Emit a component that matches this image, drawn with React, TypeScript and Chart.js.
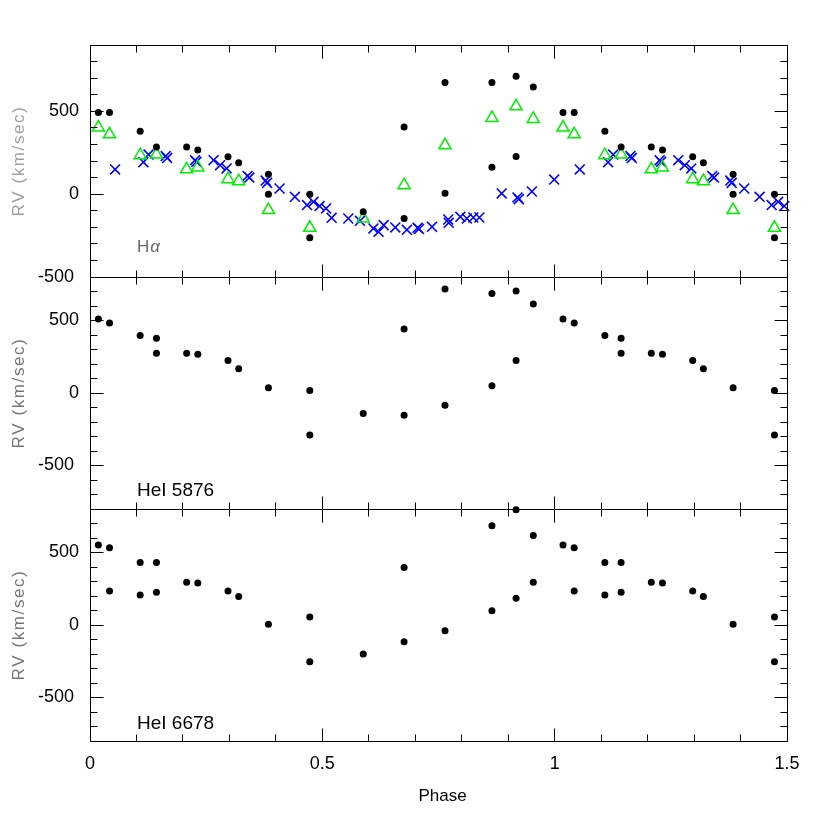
import React, { useEffect, useRef } from 'react';
import { Chart, registerables } from 'chart.js';
Chart.register(...registerables);

const FONT = '"Liberation Sans", Arial, Helvetica, sans-serif';

// ---- Hα panel ----
const haDotPhase = [0.018, 0.042, 0.108, 0.143, 0.208, 0.232, 0.297, 0.320, 0.384, 0.384, 0.473, 0.473, 0.588, 0.676, 0.676, 0.764, 0.764, 0.865, 0.865, 0.917, 0.917, 0.954];
const haDotRV = [492, 492, 380, 285, 285, 267, 225, 189, 120, 0, 0, -263, -107, 405, -147, 673, 6, 673, 163, 711, 227, 646];

const haTriPhase = [0.018, 0.042, 0.108, 0.143, 0.208, 0.232, 0.297, 0.320, 0.384, 0.473, 0.588, 0.676, 0.764, 0.865, 0.917, 0.954];
const haTriRV = [402, 361, 235, 239, 150, 161, 90, 78, -96, -203, -147, 54, 295, 460, 530, 454];

const haCrossPhase = [0.054, 0.115, 0.126, 0.163, 0.166, 0.226, 0.229, 0.266, 0.280, 0.294, 0.339, 0.343, 0.378, 0.381, 0.408, 0.441, 0.467, 0.481, 0.494, 0.508, 0.520, 0.556, 0.581, 0.610, 0.621, 0.632, 0.657, 0.682, 0.705, 0.708, 0.736, 0.771, 0.772, 0.797, 0.811, 0.825, 0.838, 0.886, 0.920, 0.923, 0.951, 0.999];
const haCrossRV = [149, 193, 239, 230, 218, 205, 195, 205, 175, 155, 110, 100, 82, 68, 34, -16, -66, -46, -72, -86, -143, -147, -161, -207, -227, -187, -201, -215, -203, -210, -197, -153, -173, -137, -147, -141, -141, 4, -20, -30, 16, 88];

// ---- HeI 5876 panel ----
const he5876Phase = [0.018, 0.042, 0.108, 0.143, 0.143, 0.208, 0.232, 0.297, 0.320, 0.384, 0.473, 0.473, 0.588, 0.676, 0.676, 0.764, 0.764, 0.865, 0.865, 0.917, 0.917, 0.954];
const he5876RV = [511, 482, 396, 378, 275, 275, 268, 224, 167, 36, 18, -289, -142, -154, 442, 718, -85, 686, 50, 704, 224, 614];

// ---- HeI 6678 panel ----
const he6678Phase = [0.018, 0.042, 0.042, 0.108, 0.108, 0.143, 0.143, 0.208, 0.232, 0.297, 0.320, 0.384, 0.473, 0.473, 0.588, 0.676, 0.676, 0.764, 0.865, 0.865, 0.917, 0.917, 0.954, 0.954];
const he6678RV = [551, 532, 235, 431, 207, 431, 226, 295, 290, 235, 196, 5, 55, -254, -200, 396, -115, -39, 685, 99, 795, 184, 618, 295];

// ---- axes ----
const phaseTicks = [0, 0.5, 1, 1.5];
const rvTicks = [-500, 0, 500];
const phaseMin = 0;
const phaseMax = 1.5;

// Each observation is shown at its phase and again one cycle later (within the plotted range)
function fold(ph: number[], rv: number[]) {
  const pts: { x: number; y: number }[] = [];
  ph.forEach((p, i) => {
    pts.push({ x: p, y: rv[i] });
    if (p + 1 <= phaseMax) pts.push({ x: p + 1, y: rv[i] });
  });
  return pts;
}

const dotStyle = { pointStyle: 'circle', pointRadius: 3.5, backgroundColor: '#000', borderColor: '#000', borderWidth: 0, showLine: false };
const triStyle = { pointStyle: 'triangle', pointRadius: 7, backgroundColor: 'rgba(0,0,0,0)', borderColor: '#00ee00', borderWidth: 1.5, showLine: false };
const crossStyle = { pointStyle: 'crossRot', pointRadius: 7, backgroundColor: '#0000ff', borderColor: '#0000ff', borderWidth: 1.6, showLine: false };

const framePlugin = {
  id: 'frame',
  afterDraw(chart: any) {
    const o = chart.options.plugins.frame;
    const { ctx, chartArea: a, scales } = chart;
    const xs = scales.x, ys = scales.y;
    const L = Math.floor(a.left) + 0.5, R = Math.floor(a.right) + 0.5;
    const T = Math.floor(a.top) + 0.5, B = Math.floor(a.bottom) + 0.5;
    ctx.save();
    ctx.strokeStyle = '#000';
    ctx.lineWidth = 1;
    ctx.beginPath();
    ctx.rect(L, T, R - L, B - T);
    // x ticks (inward, top & bottom)
    for (let i = 0; i <= 15; i++) {
      const v = i / 10;
      const px = Math.floor(xs.getPixelForValue(v)) + 0.5;
      const len = i % 5 === 0 ? 13 : 7;
      ctx.moveTo(px, B); ctx.lineTo(px, B - len);
      ctx.moveTo(px, T); ctx.lineTo(px, T + len);
    }
    // y ticks (inward, left & right)
    for (let v = Math.ceil(ys.min / 100) * 100; v <= ys.max; v += 100) {
      const py = Math.floor(ys.getPixelForValue(v)) + 0.5;
      const len = v % 500 === 0 ? 13 : 7;
      ctx.moveTo(L, py); ctx.lineTo(L + len, py);
      ctx.moveTo(R, py); ctx.lineTo(R - len, py);
    }
    ctx.stroke();

    // y-axis title
    ctx.save();
    ctx.translate(19, (a.top + a.bottom) / 2);
    ctx.rotate(-Math.PI / 2);
    ctx.font = `17px ${FONT}`;
    try { (ctx as any).letterSpacing = '1.6px'; } catch (e) {}
    ctx.fillStyle = o.titleColor;
    ctx.textAlign = 'center';
    ctx.textBaseline = 'middle';
    ctx.fillText('RV (km/sec)', 0, 0);
    ctx.restore();

    // panel label
    ctx.textAlign = 'left';
    ctx.textBaseline = 'alphabetic';
    if (o.label === 'Ha') {
      ctx.fillStyle = '#6a6a6a';
      ctx.font = `17px ${FONT}`;
      const y = a.bottom - 25.5;
      ctx.fillText('H', 137, y);
      const w = ctx.measureText('H').width;
      ctx.font = `italic 17px ${FONT}`;
      ctx.fillText('α', 137 + w + 1, y);
    } else {
      ctx.fillStyle = '#000';
      ctx.font = `19px ${FONT}`;
      ctx.fillText(o.label, 137, a.bottom - o.labelOffset);
    }

    if (o.xTitle) {
      ctx.fillStyle = '#000';
      ctx.font = `17px ${FONT}`;
      ctx.textAlign = 'center';
      ctx.fillText('Phase', (a.left + a.right) / 2 + 4, a.bottom + 60);
    }
    ctx.restore();
  },
};

function makeConfig(p: any) {
  return {
    type: 'scatter',
    data: { datasets: p.datasets },
    options: {
      animation: false,
      responsive: false,
      devicePixelRatio: 1,
      events: [],
      clip: false,
      layout: { padding: { left: 0, right: 43, top: p.padTop, bottom: p.padBottom } },
      plugins: {
        legend: { display: false },
        tooltip: { enabled: false },
        frame: p.frame,
      },
      scales: {
        x: {
          type: 'linear',
          min: phaseMin,
          max: phaseMax,
          display: p.showX,
          grid: { display: false, drawTicks: false },
          border: { display: false },
          afterBuildTicks: (s: any) => { s.ticks = phaseTicks.map((v) => ({ value: v })); },
          afterFit: (s: any) => { s.height = p.showX ? 89 : 0; s.paddingLeft = 0; s.paddingRight = 0; },
          ticks: { padding: 12, color: '#000', font: { family: FONT, size: 18 }, callback: (v: any) => String(v), maxRotation: 0 },
        },
        y: {
          type: 'linear',
          min: p.yMin,
          max: p.yMax,
          grid: { display: false, drawTicks: false },
          border: { display: false },
          afterBuildTicks: (s: any) => { s.ticks = rvTicks.map((v) => ({ value: v })); },
          afterFit: (s: any) => { s.width = 90; s.paddingTop = 0; s.paddingBottom = 0; },
          ticks: { padding: 11, color: '#000', font: { family: FONT, size: 18 }, callback: (v: any) => (v < 0 ? String(v) + ' ' : String(v)) },
        },
      },
    },
    plugins: [framePlugin],
  };
}

const panels = [
  {
    top: 0, height: 300, padTop: 45, padBottom: 23, showX: false, yMin: -500, yMax: 900,
    frame: { label: 'Ha', titleColor: '#a0a0a0' },
    datasets: [
      { label: 'Hα abs', data: fold(haDotPhase, haDotRV), ...dotStyle },
      { label: 'Hα tri', data: fold(haTriPhase, haTriRV), ...triStyle },
      { label: 'Hα cross', data: fold(haCrossPhase, haCrossRV), ...crossStyle },
    ],
  },
  {
    top: 265, height: 260, padTop: 12, padBottom: 16, showX: false, yMin: -800, yMax: 800,
    frame: { label: 'HeI 5876', labelOffset: 13.5, titleColor: '#777777' },
    datasets: [{ label: 'HeI 5876', data: fold(he5876Phase, he5876RV), ...dotStyle }],
  },
  {
    top: 497, height: 333, padTop: 12, padBottom: 0, showX: true, yMin: -800, yMax: 800,
    frame: { label: 'HeI 6678', labelOffset: 12.5, titleColor: '#777777', xTitle: true },
    datasets: [{ label: 'HeI 6678', data: fold(he6678Phase, he6678RV), ...dotStyle }],
  },
];

export default function App() {
  const refs = [useRef<HTMLCanvasElement>(null), useRef<HTMLCanvasElement>(null), useRef<HTMLCanvasElement>(null)];
  useEffect(() => {
    const charts = panels.map((p, i) => new Chart(refs[i].current as HTMLCanvasElement, makeConfig(p) as any));
    return () => charts.forEach((c) => c.destroy());
  }, []);
  return (
    <div style={{ position: 'absolute', left: 0, top: 0, width: 830, height: 830, background: '#fff' }}>
      {panels.map((p, i) => (
        <canvas
          key={i}
          ref={refs[i]}
          width={830}
          height={p.height}
          style={{ position: 'absolute', left: 0, top: p.top, width: 830, height: p.height }}
        />
      ))}
    </div>
  );
}
